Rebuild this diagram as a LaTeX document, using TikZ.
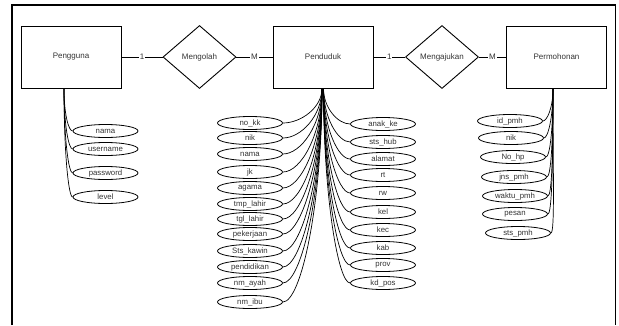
\documentclass[tikz,border=0pt]{standalone}
\usepackage{fontspec}
\setmainfont{Liberation Sans}
\usetikzlibrary{shapes.geometric}
\begin{document}
\begin{tikzpicture}[x=1pt,y=-1pt,
  ent/.style={draw,line width=0.9pt,minimum width=100pt,minimum height=62pt,inner sep=0pt,font=\fontsize{8}{9}\selectfont,text=black!80},
  rel/.style={draw,line width=0.9pt,diamond,minimum width=73pt,minimum height=63pt,inner sep=0pt,aspect=1.16,font=\fontsize{8}{9}\selectfont,text=black!80},
  attr/.style={draw,line width=0.8pt,ellipse,minimum width=65pt,minimum height=13pt,inner sep=0pt,font=\fontsize{7.8}{8}\selectfont,text=black!80},
  card/.style={fill=white,inner sep=0.8pt,font=\fontsize{8}{9}\selectfont,text=black!80},
  lk/.style={line width=0.7pt}]
\useasboundingbox (0,0) rectangle (619,325);
% outer frame
\coordinate (f1) at (12,325);
\coordinate (f2) at (12,5);
\coordinate (f3) at (615.5,5);
\coordinate (f4) at (615.5,325);
\draw[line width=1.2pt] (f1) -- (f2) -- (f3) -- (f4);
% entities
\node[ent] (pengguna) at (71,57) {Pengguna};
\node[rel] (mengolah) at (199.5,57) {Mengolah};
\node[ent] (penduduk) at (323,57) {Penduduk};
\node[rel] (mengajukan) at (442,57) {Mengajukan};
\node[ent] (permohonan) at (556.5,57) {Permohonan};
\draw[lk] (pengguna) -- node[card,pos=0.5] {1} (mengolah);
\draw[lk] (mengolah) -- node[card,pos=0.5] {M} (penduduk);
\draw[lk] (penduduk) -- node[card,pos=0.5] {1} (mengajukan);
\draw[lk] (mengajukan) -- node[card,pos=0.5] {M} (permohonan);
% Pengguna attributes
\foreach \n/\y/\t in {ua/131/nama,ub/149/username,uc/173/password,ud/197/level}{
  \node[attr] (\n) at (105.5,\y) {\t};
  \pgfmathsetmacro{\od}{0.6*(\y-88)}
  \draw[lk] ([xshift=-7pt]pengguna.south) to[out=-90,in=180,out distance=\od pt,in distance=4pt] (\n.west);
}
% Penduduk left attributes
\foreach \n/\y/\t in {la/123/no\_kk,lb/138/nik,lc/154/nama,ld/172/jk,le/188/agama,lf/204/tmp\_lahir,lg/219/tgl\_lahir,lh/234/pekerjaan,li/251/Sts\_kawin,lj/267/pendidikan,lk/283/nm\_ayah,ll/302/nm\_ibu}{
  \node[attr] (\n) at (250,\y) {\t};
  \pgfmathsetmacro{\od}{0.55*(\y-88)}
  \draw[lk] ([xshift=-1pt]penduduk.south) to[out=-90,in=0,out distance=\od pt,in distance=18pt] (\n.east);
}
% Penduduk right attributes
\foreach \n/\y/\t in {ra/124/anak\_ke,rb/142/sts\_hub,rc/159/alamat,rd/175/rt,re/193/rw,rf/212/kel,rg/230/kec,rh/248/kab,ri/265/prov,rj/283/kd\_pos}{
  \node[attr] (\n) at (383,\y) {\t};
  \pgfmathsetmacro{\od}{0.55*(\y-88)}
  \draw[lk] ([xshift=0.5pt]penduduk.south) to[out=-90,in=180,out distance=\od pt,in distance=12pt] (\n.west);
}
% Permohonan attributes
\foreach \n/\x/\y/\t in {pa/510/121/id\_pmh,pb/511/138/nik,pc/513/157/No\_hp,pd/514/177/jns\_pmh,pe/515/196/waktu\_pmh,pf/515/214/pesan,pg/518/233/sts\_pmh}{
  \node[attr] (\n) at (\x,\y) {\t};
  \pgfmathsetmacro{\od}{0.6*(\y-88)}
  \draw[lk] ([xshift=-3.5pt]permohonan.south) to[out=-90,in=0,out distance=\od pt,in distance=4pt] (\n.east);
}
\end{tikzpicture}
\end{document}
